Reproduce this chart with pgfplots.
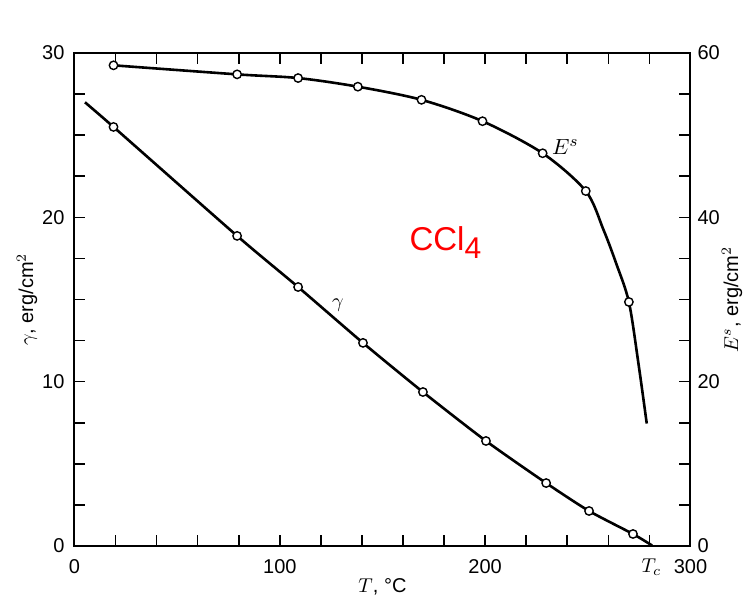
\documentclass[border=0pt]{standalone}
\usepackage{fontspec}
\setmainfont{Liberation Sans}
\usepackage{pgfplots}
\pgfplotsset{compat=1.18}
\begin{document}
\begin{tikzpicture}
\path[use as bounding box] (-37.25pt,-26.5pt) rectangle (338.75pt,273pt);
\begin{axis}[
  at={(0,0)}, anchor=south west,
  scale only axis, width=308pt, height=246.5pt,
  xmin=0, xmax=300, ymin=0, ymax=30,
  xtick={0,100,200,300}, minor x tick num=4,
  extra x ticks={281}, extra x tick labels={$T_c$},
  extra x tick style={major tick length=0pt},
  ytick={0,10,20,30}, minor y tick num=3,
  tick align=inside, major tick length=5.5pt, minor tick length=5.5pt,
  xtick pos=both, ytick pos=left, xticklabel pos=bottom,
  tick style={black, line width=0.8pt},
  axis line style={line width=1pt},
  ticklabel style={font=\fontsize{10}{12}\selectfont},
  xticklabel style={yshift=-3pt},
  yticklabel style={xshift=-1.5pt},
  /pgf/number format/assume math mode=true,
  xlabel={$T$, °C}, ylabel={$\gamma$, erg/cm$^2$},
  every axis x label/.style={at={(rel axis cs:0.5,0)}, anchor=center, yshift=-20.5pt},
  every axis y label/.style={at={(rel axis cs:0,0.5)}, xshift=-23.75pt, rotate=90, anchor=center},
]
\addplot[black, line width=1.3pt, smooth, tension=0.4, no marks] coordinates {
  (5.1,27.0) (19,25.5) (79.2,18.87) (108.9,15.76) (140.5,12.36) (169.7,9.37)
  (200.4,6.39) (229.7,3.83) (250.6,2.13) (272,0.73) (281.3,0.03)
};
\addplot[only marks, mark=*, mark size=2.1pt, mark options={fill=white, draw=black, line width=0.7pt}] coordinates {
  (19,25.5) (79.2,18.87) (108.9,15.76) (140.5,12.36) (169.7,9.37)
  (200.4,6.39) (229.7,3.83) (250.6,2.13) (272,0.73)
};
\coordinate (glab) at (axis cs:128.3,14.67);
\coordinate (elab) at (axis cs:239,24.3);
\coordinate (clab) at (axis cs:163,18.0);
\end{axis}
\begin{axis}[
  at={(0,0)}, anchor=south west,
  scale only axis, width=308pt, height=246.5pt,
  xmin=0, xmax=300, ymin=0, ymax=60,
  hide x axis,
  ytick={0,20,40,60}, minor y tick num=3,
  ytick pos=right, yticklabel pos=right,
  tick align=inside, major tick length=5.5pt, minor tick length=5.5pt,
  tick style={black, line width=0.8pt},
  axis line style={line width=1pt},
  ticklabel style={font=\fontsize{10}{12}\selectfont},
  /pgf/number format/assume math mode=true,
  ylabel={$E^s$, erg/cm$^2$},
  every axis y label/.style={at={(rel axis cs:1,0.5)}, xshift=20.75pt, rotate=90, anchor=center},
]
\addplot[black, line width=1.3pt, smooth, tension=0.5, no marks] coordinates {
  (19,58.5) (79.2,57.4) (108.9,56.95) (138,55.9) (169,54.3) (198.7,51.7)
  (228,47.8) (249,43.2) (257.6,38.5) (263.8,34.4) (270,29.7) (274.6,22.3) (278.7,14.9)
};
\addplot[only marks, mark=*, mark size=2.1pt, mark options={fill=white, draw=black, line width=0.7pt}] coordinates {
  (19,58.5) (79.2,57.4) (108.9,56.95) (138,55.9) (169,54.3) (198.7,51.7)
  (228,47.8) (249,43.2) (270,29.7)
};
\end{axis}
\node at (glab) {$\gamma$};
\node[font=\fontsize{11}{13}\selectfont] at (elab) {$E^s$};
\node[red, anchor=base west, inner sep=0pt, font=\fontsize{16.5}{20}\selectfont] at (clab) {CCl\lower4pt\hbox{\fontsize{15}{18}\selectfont 4}};
\end{tikzpicture}
\end{document}
